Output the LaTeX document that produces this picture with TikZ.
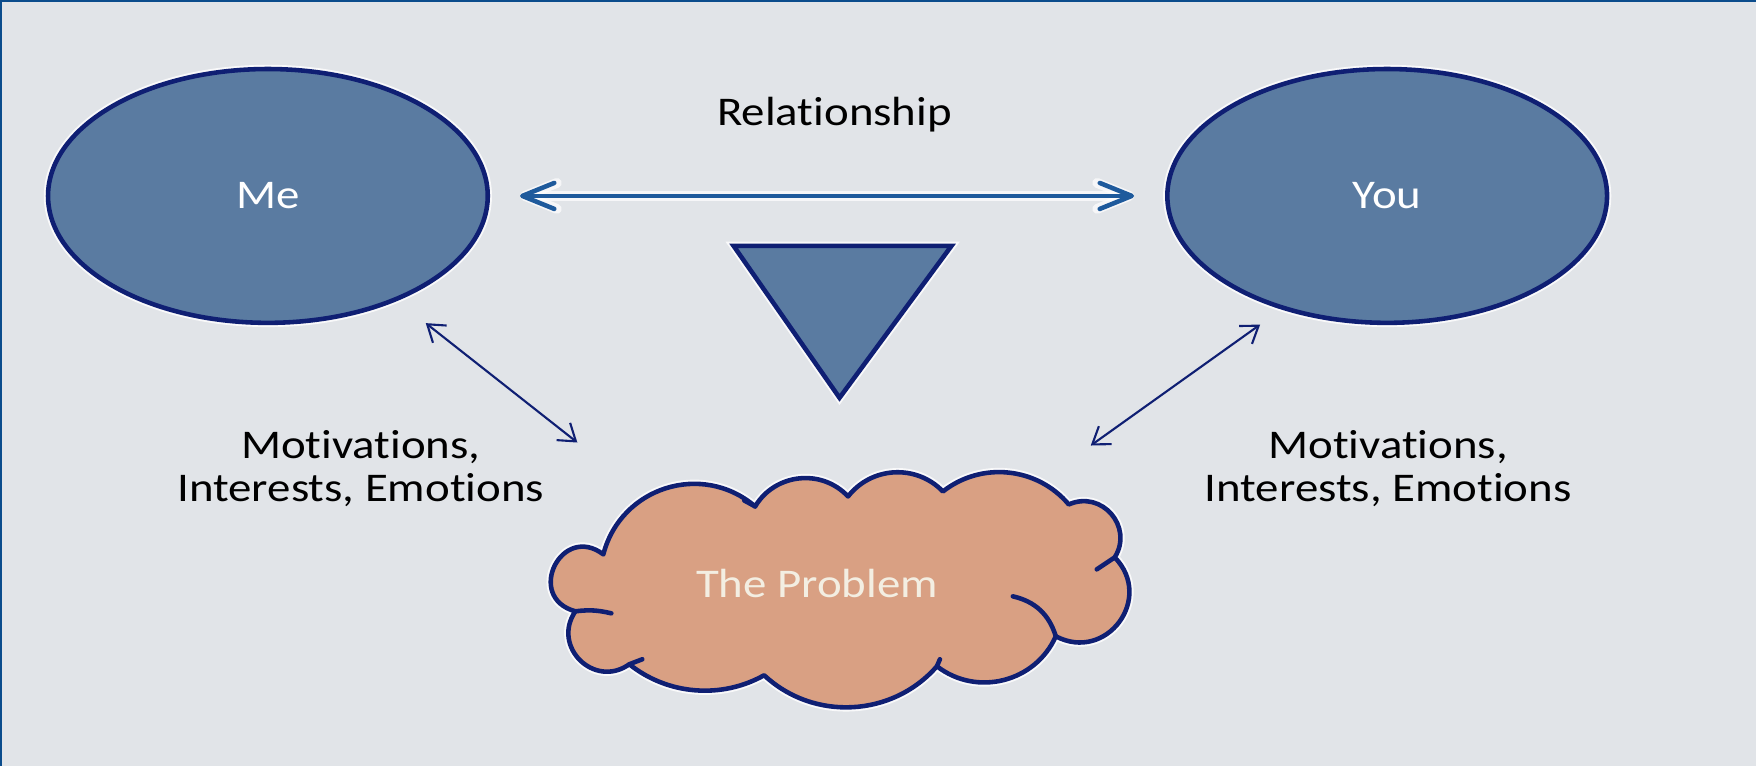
\documentclass[tikz,border=0pt]{standalone}
\usepackage{fontspec}
\setmainfont{Carlito}[FakeStretch=1.15, Ligatures=NoCommon]
\usepackage{tikz}
\usepackage[dvipsnames]{xcolor}
\usetikzlibrary{backgrounds}
\usetikzlibrary{calc}
\usetikzlibrary{shapes.geometric}
\usetikzlibrary{arrows.meta}
\definecolor{slidegray}{HTML}{E1E4E8}
\definecolor{frameblue}{HTML}{0B4C8C}
\definecolor{partyblue}{HTML}{5A7BA1}
\definecolor{inkblue}{HTML}{0F1F73}
\definecolor{issuesalmon}{HTML}{D9A083}
\definecolor{bondblue}{HTML}{1E5A9C}
\definecolor{issuecream}{HTML}{F3EEE2}
\newcommand{\slidex}{17.57}
\newcommand{\slidey}{7.66}
\newcommand{\partyw}{4.40cm}
\newcommand{\partyh}{2.54cm}
\newcommand{\slidefont}{\fontsize{11.6pt}{12.2pt}\selectfont}
\tikzset{
  halo/.style={preaction={draw=white, line width=2.4pt, opacity=0.8}},
  party/.style={ellipse, halo, draw=inkblue, line width=1.3pt, fill=partyblue,
    minimum width=\partyw, minimum height=\partyh, inner sep=0pt,
    text=white},
  % one puff of the cloud: bend angle, looseness
  puff/.style 2 args={bend right=#1, looseness=#2},
  bond/.style={draw=bondblue, line width=1.3pt, line cap=round,
    preaction={draw=white, line width=2.8pt, opacity=0.7},
    {Straight Barb[length=3.2mm, width=2.6mm, line cap=round, line join=round]}-{Straight Barb[length=3.2mm, width=2.6mm, line cap=round, line join=round]}},
  pull/.style={draw=inkblue, line width=0.6pt,
    {Straight Barb[length=1.6mm, width=2.2mm]}-{Straight Barb[length=1.6mm, width=2.2mm]}},
  caption/.style={align=center, text=black}
}

\begin{document}
\begin{tikzpicture}[font=\slidefont]
    % slide background and frame
    \fill[slidegray] (0,0) rectangle (\slidex,\slidey);
    \draw[frameblue, line width=0.6pt] (0.01,0) -- (0.01,\slidey-0.01) -- (\slidex,\slidey-0.01);
    \useasboundingbox (0,0) rectangle (\slidex,\slidey);

    % the two parties
    \node[party] (me) at (2.68,5.70) {Me};
    \node[party] (you) at (13.88,5.70) {You};

    % relationship between them
    \node (rel) at (8.35,6.51) {Relationship};
    \draw[bond, shorten <=3mm, shorten >=3.1mm] (me.east) -- (you.west);

    % wedge pointing down at the problem
    \draw[halo, draw=inkblue, line width=1.3pt, fill=partyblue, line join=miter]
      (7.34,5.20) -- (9.52,5.20) -- (8.40,3.68) -- cycle;

    % the problem, one puff at a time (pixel grid, y down)
    \begin{scope}[x=0.01cm, y=-0.01cm, shift={(0cm,7.66cm)}]
      \filldraw[halo, draw=inkblue, line width=1.3pt, fill=issuesalmon, line join=round]
        (604,555) to[puff={101}{2.12}] (576,612)
        to[puff={80}{1.45}] (630,665)
        to[puff={34}{0.93}] (765,676)
        to[puff={46}{1.0}] (938,667)
        to[puff={52}{1.05}] (1057,637)
        to[puff={81}{1.48}] (1116,558)
        to[puff={73}{1.32}] (1070,505)
        to[puff={44}{0.99}] (944,492)
        to[puff={49}{1.03}] (849,497)
        to[puff={53}{1.06}] (756,507)
        to[puff={58}{1.12}] (604,555)
        -- cycle;
      % folds running into the cloud
      \draw[inkblue, line width=1.3pt, line cap=round]
        (576,612) to[bend left=10] (612,614)
        (630,665) -- (643,660)
        (938,667) -- (941,660)
        (1057,637) to[bend right=30] (1014,597)
        (1116,558) -- (1098,570)
        (756,507) -- (745,501);
      \node[text=issuecream] (prob) at (818,584) {The Problem};
      \coordinate (probL) at (578,443);
      \coordinate (probR) at (1092,446);
    \end{scope}
    \draw[pull, shorten <=3.6mm] (me.-39) -- (probL);
    \draw[pull, shorten <=2.6mm] (you.-133) -- (probR);

    % motivations on each side
    \node[caption] (motme) at (3.61,2.97) {Motivations,\\Interests, Emotions};
    \node[caption] (motyou) at (13.89,2.97) {Motivations,\\Interests, Emotions};
\end{tikzpicture}
\end{document}
